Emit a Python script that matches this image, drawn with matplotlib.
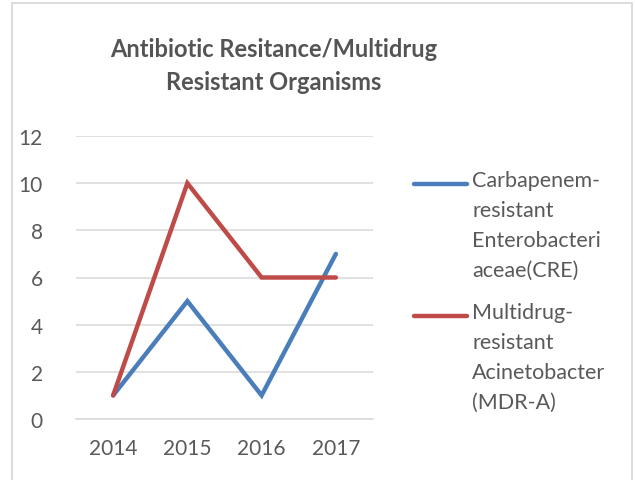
import matplotlib
matplotlib.use("Agg")
import matplotlib.pyplot as plt
from matplotlib.lines import Line2D
from matplotlib.patches import Rectangle

years = ["2014", "2015", "2016", "2017"]
cre = [1, 5, 1, 7]
mdra = [1, 10, 6, 6]
series_labels = ["Carbapenem-\nresistant\nEnterobacteri\naceae(CRE)",
                 "Multidrug-\nresistant\nAcinetobacter\n(MDR-A)"]
title = "Antibiotic Resitance/Multidrug\nResistant Organisms"
yticks = [0, 2, 4, 6, 8, 10, 12]

plt.rcParams["font.family"] = ["Lato", "DejaVu Sans"]

W, H = 635, 481
fig = plt.figure(figsize=(W / 100, H / 100), dpi=100)
fig.patch.set_facecolor("white")

def fx(px):
    return px / W

def fy(py):
    return 1 - py / H

fig.add_artist(Rectangle((fx(12), fy(520)), fx(620), (520 - 4) / H,
                         transform=fig.transFigure, fill=False,
                         edgecolor="#D9D9D9", lw=1.3))

ax = fig.add_axes([fx(76), fy(420), fx(373 - 76), (420 - 137) / H])
txt = "#595959"
blue = "#4A7EBB"
red = "#BE4B48"
x = list(range(len(years)))
ax.plot(x, cre, color=blue, lw=3.2, solid_capstyle="round", solid_joinstyle="miter", zorder=3)
ax.plot(x, mdra, color=red, lw=3.2, solid_capstyle="round", solid_joinstyle="miter", zorder=4)
ax.set_xlim(-0.5, len(years) - 0.5)
ax.set_ylim(0, 12)
ax.set_xticks(x)
ax.set_xticklabels(years)
ax.set_yticks(yticks)
ax.set_yticklabels([str(v) for v in yticks])
ax.grid(axis="y", color="#D9D9D9", lw=1.1)
ax.set_axisbelow(True)
for s in ["top", "right", "left"]:
    ax.spines[s].set_visible(False)
ax.spines["bottom"].set_color("#D9D9D9")
ax.spines["bottom"].set_linewidth(1.1)
ax.tick_params(length=0, colors=txt, labelsize=15)
ax.tick_params(axis="x", pad=14)
ax.tick_params(axis="y", pad=24)

fig.text(fx(274), fy(66), title, ha="center", va="center", fontsize=17,
         fontweight="bold", color="#545454", linespacing=1.5)

colors = [blue, red]
ys = [185, 317]
for lab, c, yy in zip(series_labels, colors, ys):
    fig.add_artist(Line2D([fx(414), fx(467)], [fy(yy), fy(yy)], color=c, lw=3.2,
                          solid_capstyle="round", transform=fig.transFigure))
    fig.text(fx(472), fy(yy - 14), lab, ha="left", va="top", fontsize=15.5,
             color=txt, linespacing=1.62)

fig.savefig("out.png", dpi=100)
